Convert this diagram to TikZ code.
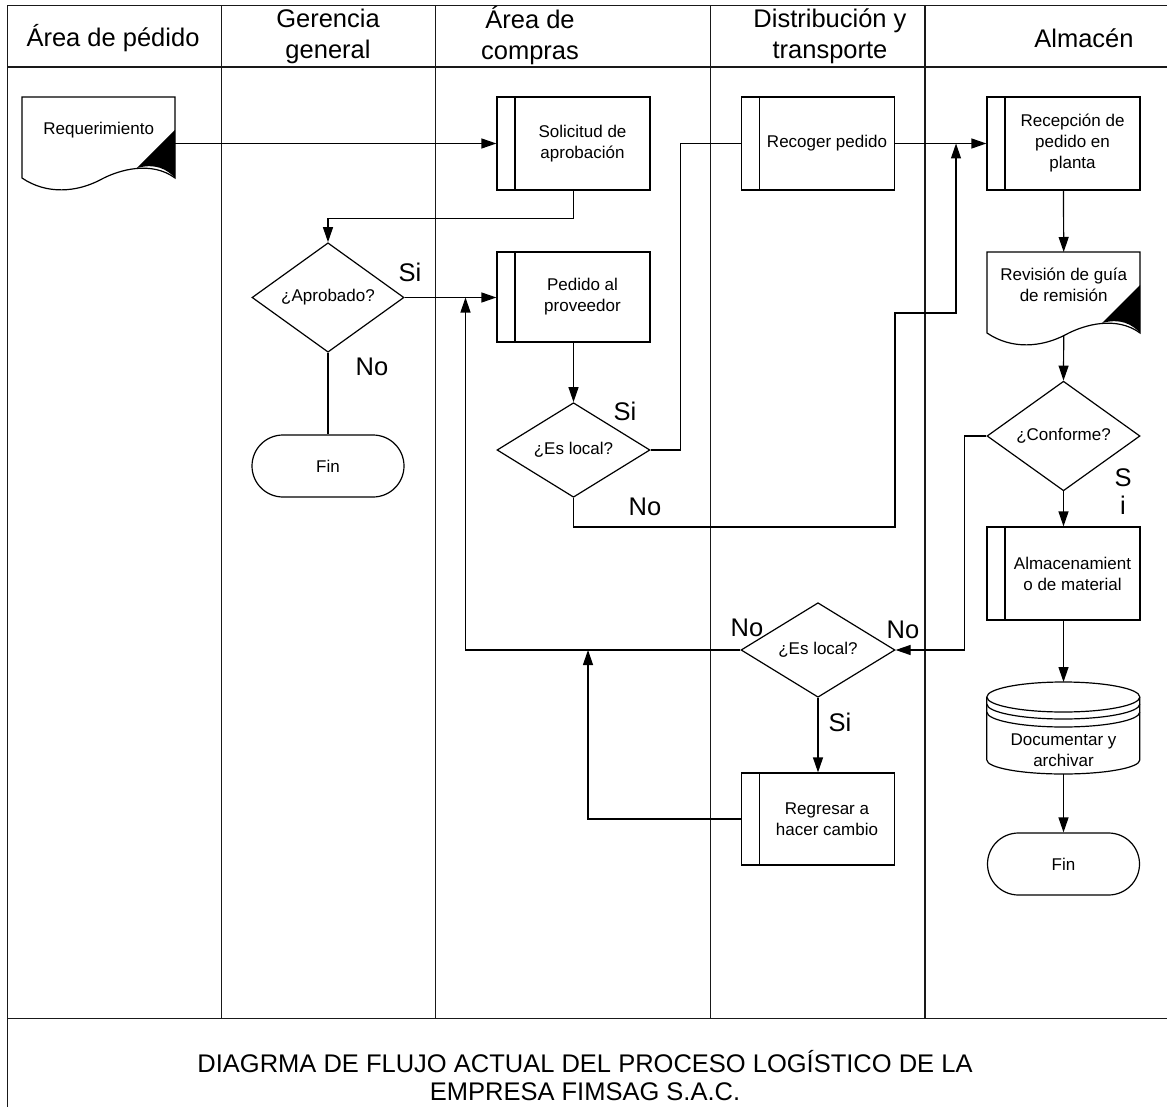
\documentclass[tikz,border=0pt]{standalone}
\usepackage{fontspec}
\setmainfont{Liberation Sans}
\usetikzlibrary{arrows.meta,shapes.geometric,calc}

% text of a predefined-process box, centred right of its side bar
\newcommand\prtext[1]{\hspace*{18pt}\parbox[c]{125pt}{\centering #1}}

\begin{document}
\begin{tikzpicture}[x=1pt,y=-1pt,
  frameline/.style={line width=1.7pt, draw=black!90},
  conn/.style={line width=1.2pt},
  arr/.style={conn, -{Triangle[length=15pt,width=10pt]}},
  boxfont/.style={font=\fontsize{17}{21}\selectfont},
  big/.style={font=\fontsize{25.5}{31}\selectfont, align=center, inner sep=0pt},
  proc/.style={draw, line width=1.2pt, rectangle, minimum width=153pt,
    minimum height=93pt, inner sep=0pt, boxfont,
    path picture={\draw[line width=1.2pt]
      ([xshift=18pt]path picture bounding box.north west) --
      ([xshift=18pt]path picture bounding box.south west);}},
  decision/.style={draw, line width=1.2pt, diamond, minimum width=153pt,
    minimum height=90pt, inner sep=0pt, boxfont},
  term/.style={draw, line width=1.2pt, rectangle, rounded corners=31pt,
    minimum width=152pt, minimum height=62pt, boxfont},
  docnode/.style={rectangle, minimum width=153pt, minimum height=66pt,
    inner sep=0pt, anchor=north west, boxfont, align=center},
  shapeline/.style={line width=1.2pt}
]
\useasboundingbox (0,0) rectangle (1167,1107);

% ---- swimlane frame ----
\draw[frameline] (7.5,1107) -- (7.5,5.5) -- (1167,5.5);
\draw[frameline] (7.5,67) -- (1167,67);
\draw[frameline] (7.5,1018.5) -- (1167,1018.5);
\foreach \lx in {221.5,435.5,710.5,925}
  \draw[frameline] (\lx,5.5) -- (\lx,1018.5);

% ---- lane headers ----
\node[big] (h1) at (113,38) {Área de pédido};
\node[big] (h2) at (328,36) {Gerencia\\general};
\node[big] (h3) at (530,36) {Área de\\compras};
\node[big] (h4) at (830,36) {Distribución y\\transporte};
\node[big] (h5) at (1084,38) {Almacén};

% ---- title ----
\node[big, font=\fontsize{25.5}{28}\selectfont] (title) at (585,1076)
  {DIAGRMA DE FLUJO ACTUAL DEL PROCESO LOGÍSTICO DE LA\\EMPRESA FIMSAG S.A.C.};

% ---- documents ----
\node[docnode] (req) at (22,97) {Requerimiento};
\node[docnode] (rev) at (987,252) {Revisión de guía\\de remisión};
\foreach \d in {req,rev}{
  \begin{scope}[shift={(\d.north west)}]
    \draw[shapeline] (0,0) -- (153,0) -- (153,81)
      .. controls (130,64) and (98,72) .. (78,83)
      .. controls (55,95) and (25,98) .. (0,81) -- cycle;
    \fill (153,33) -- (115,71) .. controls (133,66) and (145,72) .. (153,81) -- cycle;
  \end{scope}
}
\coordinate (revb) at ($(rev.north)+(0,84)$);

% ---- processes ----
\node[proc] (solic) at (573.5,143.5) {\prtext{Solicitud de\\aprobación}};
\node[proc] (recoger) at (818,143.5) {\prtext{Recoger pedido}};
\node[proc] (recep) at (1063.5,143.5) {\prtext{Recepción de\\pedido en\\planta}};
\node[proc, minimum height=90pt] (pedido) at (573.5,297) {\prtext{Pedido al\\proveedor}};
\node[proc] (almac) at (1063.5,573.5) {\prtext{Almacenamient\\o de material}};
\node[proc, minimum height=92pt] (regresar) at (818,819) {\prtext{Regresar a\\hacer cambio}};

% ---- decisions ----
\node[decision, minimum width=152pt, minimum height=91pt] (aprob) at (328,297.5) {¿Aprobado?};
\node[decision] (local1) at (573.5,450) {¿Es local?};
\node[decision, minimum height=92pt] (conf) at (1063.5,436) {¿Conforme?};
\node[decision, minimum width=154pt] (local2) at (818,650) {¿Es local?};

% ---- terminators ----
\node[term] (fin1) at (328,466) {Fin};
\node[term] (fin2) at (1063.5,864) {Fin};

% ---- stored data ----
\node[docnode, minimum height=50pt, anchor=north] (db) at (1063.5,725) {Documentar y\\archivar};
\begin{scope}[shift={(db.north west)}]
  % top disc and its two rims
  \draw[shapeline] (76.5,-28) ellipse[x radius=76.5, y radius=15];
  \draw[shapeline] (0,-21) arc[start angle=180, end angle=0, x radius=76.5, y radius=15];
  \draw[shapeline] (0,-13) arc[start angle=180, end angle=0, x radius=76.5, y radius=15];
  % sides and bottom
  \draw[shapeline] (0,-28) -- (0,35) arc[start angle=180, end angle=0, x radius=76.5, y radius=14] -- (153,-28);
\end{scope}
\coordinate (dbtop) at ($(db.north)+(0,-43)$);
\coordinate (dbbot) at ($(db.south)+(0,-1)$);

% ---- junction points on other connectors ----
\coordinate (jA) at (956,143.5);
\coordinate (jB) at (465.5,297.5);
\coordinate (jC) at (588,650);

% ---- connectors ----
\draw[arr] (req.east |- solic.west) -- (solic.west);
\draw[arr] (solic.south) -- ++(0,28) -| (aprob.north);
\draw[arr] (aprob.east) -- (pedido.west |- aprob.east);
\draw[conn] (aprob.south) -- (fin1.north);
\draw[arr] (pedido.south) -- (local1.north);
\draw[conn] (local1.east) -- ++(30,0) |- (recoger.west);
\draw[arr] (recoger.east) -- (recep.west);
\draw[arr] (local1.south) |- (895,527) -- (895,313) -| (jA);
\draw[arr] (recep.south) -- (rev.north);
\draw[arr] (revb) -- (conf.north);
\draw[arr] (conf.west) -- ++(-22,0) |- (local2.east);
\draw[arr] (conf.south) -- (almac.north);
\draw[arr] (almac.south) -- (dbtop);
\draw[arr] (dbbot) -- (fin2.north);
\draw[arr] (local2.west) -| (jB);
\draw[arr] (local2.south) -- (regresar.north);
\draw[arr] (regresar.west) -| (jC);

% ---- branch labels ----
\node[big] (lsi1) at (410,272) {Si};
\node[big] (lno1) at (372,367) {No};
\node[big] (lsi2) at (625,411) {Si};
\node[big] (lno2) at (645,507) {No};
\node[big] (lsi3) at (1123,478) {S};
\node[big] (lsi3b) at (1123,505) {i};
\node[big] (lno3) at (747,628) {No};
\node[big] (lno4) at (903,630) {No};
\node[big] (lsi4) at (840,722) {Si};
\end{tikzpicture}
\end{document}
